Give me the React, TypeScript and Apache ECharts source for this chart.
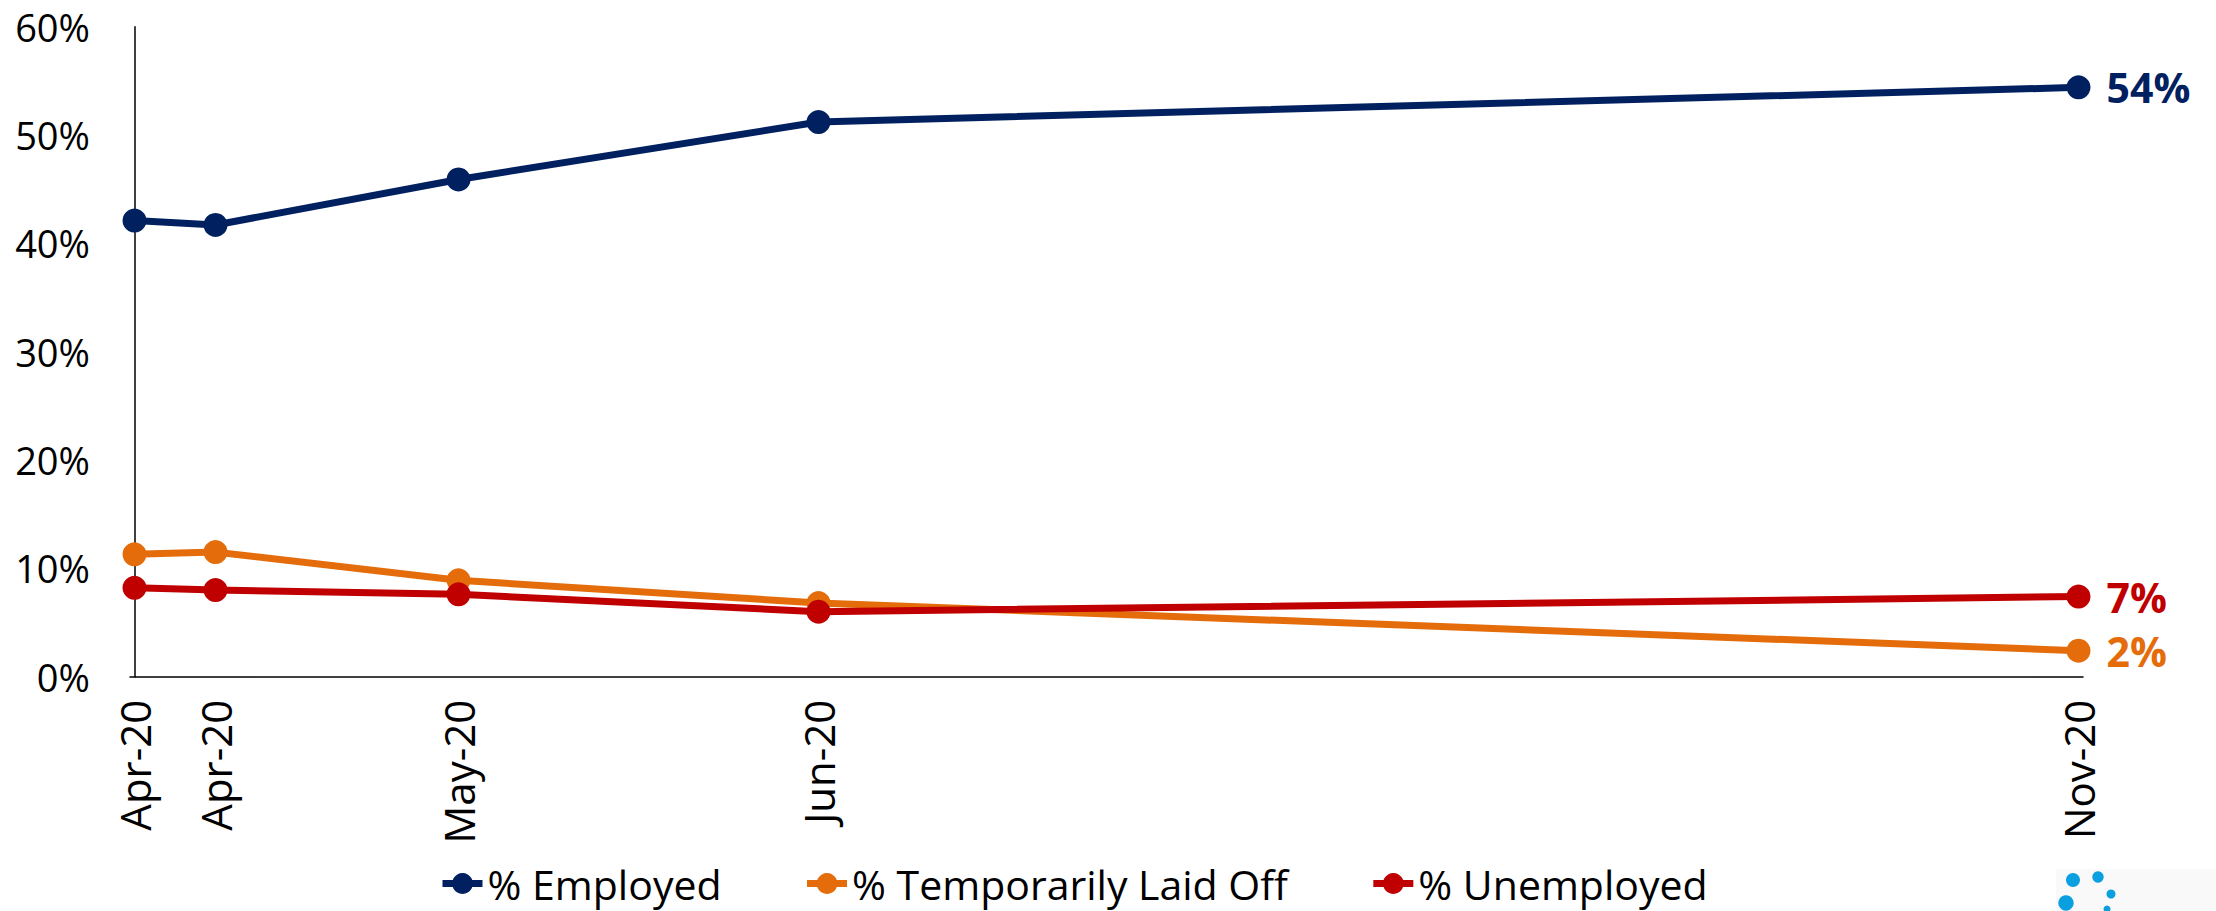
import React, { useEffect, useRef } from 'react';
import * as echarts from 'echarts';

// Survey waves (one point per wave)
const surveyDates = ['2020-04-03', '2020-04-12', '2020-05-09', '2020-06-18', '2020-11-05'];

// Shares of respondents, in percent
const employed = [42.1, 41.7, 45.9, 51.2, 54.4];
const temporarilyLaidOff = [11.3, 11.5, 8.9, 6.8, 2.4];
const unemployed = [8.2, 8.0, 7.6, 6.0, 7.4];

const seriesNames = ['% Employed', '% Temporarily Laid Off', '% Unemployed'];
const seriesColors = ['#002060', '#E46C0A', '#C00000'];

const yMin = 0;
const yMax = 60;
const yStep = 10;

const MONTHS = ['Jan', 'Feb', 'Mar', 'Apr', 'May', 'Jun', 'Jul', 'Aug', 'Sep', 'Oct', 'Nov', 'Dec'];
const FONT = 'Open Sans';
const DAY = 24 * 3600 * 1000;

const toTime = (d: string) => {
  const [y, m, day] = d.split('-').map(Number);
  return Date.UTC(y, m - 1, day);
};

// The x axis runs in days since the first wave, so the gaps between waves keep their length
const origin = toTime(surveyDates[0]);
const dayOf = (d: string) => Math.round((toTime(d) - origin) / DAY);

const monthLabel = (dayOffset: number) => {
  const d = new Date(origin + Math.round(dayOffset) * DAY);
  return `${MONTHS[d.getUTCMonth()]}-${String(d.getUTCFullYear()).slice(2)}`;
};

export default function App() {
  const ref = useRef<HTMLDivElement>(null);

  useEffect(() => {
    if (!ref.current) return;
    const chart = echarts.init(ref.current, undefined, { renderer: 'svg' });
    const days = surveyDates.map(dayOf);
    const valueSets = [employed, temporarilyLaidOff, unemployed];

    const series = valueSets.map((vals, i) => ({
      name: seriesNames[i],
      type: 'line',
      data: vals.map((v, j) => [days[j], v]),
      symbol: 'circle',
      symbolSize: 24,
      showSymbol: true,
      clip: false,
      color: seriesColors[i],
      lineStyle: { width: 7, color: seriesColors[i] },
      itemStyle: { color: seriesColors[i] },
      endLabel: {
        show: true,
        distance: 28,
        formatter: (p: any) => `${Math.round(p.value[1])}%`,
        color: seriesColors[i],
        fontFamily: FONT,
        fontWeight: 'bold',
        fontSize: 41,
      },
      emphasis: { disabled: true },
      z: 2 + i,
    }));

    chart.setOption({
      animation: false,
      backgroundColor: '#ffffff',
      textStyle: { fontFamily: FONT },
      grid: {
        left: 130,
        right: 133,
        top: 26.7,
        bottom: 234.3,
        containLabel: false,
        outerBoundsMode: 'none',
      },
      legend: {
        data: seriesNames,
        left: 434,
        top: 858,
        itemWidth: 40,
        itemHeight: 26,
        itemGap: 82,
        lineStyle: { width: 7 },
        textStyle: { fontFamily: FONT, fontSize: 41, color: '#000000' },
      },
      xAxis: {
        type: 'value',
        min: days[0] - 0.5,
        max: days[days.length - 1] + 0.5,
        splitLine: { show: false },
        axisTick: { show: false },
        axisLine: { show: true, lineStyle: { color: '#000000', width: 1.5 } },
        axisLabel: {
          customValues: days,
          rotate: 90,
          margin: 23,
          hideOverlap: false,
          formatter: (v: number) => monthLabel(v),
          fontFamily: FONT,
          fontSize: 42,
          color: '#000000',
        },
      },
      yAxis: {
        type: 'value',
        min: yMin,
        max: yMax,
        interval: yStep,
        splitLine: { show: false },
        axisTick: { show: false },
        axisLine: { show: true, lineStyle: { color: '#000000', width: 1.5 } },
        axisLabel: {
          formatter: '{value}%',
          margin: 40,
          fontFamily: FONT,
          fontSize: 38,
          color: '#000000',
        },
      },
      graphic: [
        {
          type: 'group',
          left: 2056,
          top: 869,
          silent: true,
          children: [
            { type: 'rect', shape: { x: 0, y: 0, width: 160, height: 42 }, style: { fill: '#f9f9f9' } },
            { type: 'circle', shape: { cx: 17, cy: 11, r: 7 }, style: { fill: '#0AA0E0' } },
            { type: 'circle', shape: { cx: 42, cy: 8, r: 5.7 }, style: { fill: '#0AA0E0' } },
            { type: 'circle', shape: { cx: 55, cy: 25, r: 4.5 }, style: { fill: '#0AA0E0' } },
            { type: 'circle', shape: { cx: 10, cy: 34, r: 7.7 }, style: { fill: '#0AA0E0' } },
            { type: 'circle', shape: { cx: 51, cy: 40, r: 3.5 }, style: { fill: '#0AA0E0' } },
          ],
        },
      ],
      series,
    });

    return () => chart.dispose();
  }, []);

  return (
    <div
      ref={ref}
      style={{ position: 'fixed', left: 0, top: 0, width: 2216, height: 911, background: '#ffffff' }}
    />
  );
}
